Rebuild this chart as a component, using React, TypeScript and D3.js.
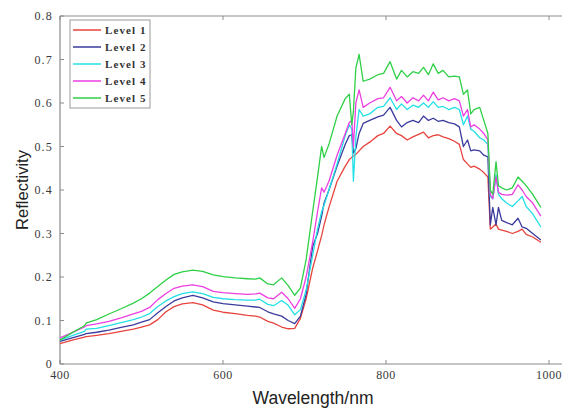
import React, { useEffect, useRef } from "react";
import * as d3 from "d3";

// wavelength samples (nm), shared by every level
const wavelengths = [
  400, 415, 430, 432, 445, 460, 475, 490, 500, 510, 520, 530, 540, 550, 563, 575, 588, 600, 615, 630,
  640, 645, 655, 662, 672, 680, 688, 695, 702, 710, 716, 721, 724, 730, 740, 750, 755, 758, 760, 763,
  767, 772, 780, 790, 797, 805, 813, 819, 826, 833, 840, 846, 852, 858, 864, 870, 877, 884, 890, 895,
  900, 904, 908, 915, 920, 925, 928, 931, 935, 938, 942, 948, 955, 962, 967, 972, 980, 990,
];

const level1 = [
  0.047, 0.055, 0.062, 0.063, 0.066, 0.07, 0.075, 0.08, 0.085, 0.09, 0.102, 0.12, 0.132, 0.138, 0.141, 0.136, 0.124, 0.119, 0.116, 0.112,
  0.11, 0.108, 0.098, 0.094, 0.085, 0.081, 0.082, 0.105, 0.15, 0.22, 0.26, 0.295, 0.32, 0.36, 0.42, 0.455, 0.47, 0.475, 0.478, 0.482,
  0.49, 0.5, 0.51, 0.525, 0.53, 0.547, 0.53, 0.525, 0.515, 0.522, 0.528, 0.533, 0.52, 0.525, 0.527, 0.522, 0.518, 0.512, 0.505, 0.47,
  0.46, 0.452, 0.455, 0.448, 0.44, 0.43, 0.31, 0.315, 0.322, 0.31, 0.308, 0.305, 0.3, 0.305, 0.31, 0.298, 0.292, 0.28,
];

const level2 = [
  0.052, 0.06, 0.068, 0.07, 0.073, 0.078, 0.084, 0.09, 0.096, 0.102, 0.118, 0.132, 0.145, 0.152, 0.158, 0.152, 0.143, 0.139, 0.136, 0.133,
  0.131, 0.13, 0.12, 0.115, 0.11, 0.1, 0.093, 0.11, 0.16, 0.27, 0.3, 0.34, 0.37, 0.4, 0.455, 0.505, 0.525, 0.527, 0.485, 0.495,
  0.53, 0.553, 0.56, 0.568, 0.572, 0.59, 0.56, 0.545, 0.555, 0.56, 0.555, 0.57, 0.56, 0.565, 0.558, 0.56, 0.555, 0.552, 0.545, 0.5,
  0.515, 0.49, 0.492, 0.49, 0.48, 0.476, 0.32, 0.36, 0.32, 0.36, 0.33, 0.325, 0.32, 0.335, 0.315, 0.312, 0.3, 0.285,
];

const level3 = [
  0.055, 0.065, 0.075, 0.08, 0.082, 0.088, 0.095, 0.102, 0.108, 0.116, 0.132, 0.145, 0.155, 0.162, 0.166, 0.162, 0.153, 0.15, 0.148, 0.147,
  0.147, 0.149, 0.137, 0.134, 0.146, 0.135, 0.113, 0.125, 0.17, 0.25, 0.31, 0.35, 0.365, 0.4, 0.46, 0.525, 0.55, 0.54, 0.42, 0.52,
  0.585, 0.57, 0.575, 0.59, 0.592, 0.612, 0.585, 0.598, 0.585, 0.595, 0.59, 0.6, 0.59, 0.603, 0.59, 0.592, 0.585, 0.59, 0.585, 0.55,
  0.57, 0.54, 0.535, 0.52, 0.515, 0.505, 0.385, 0.38, 0.435, 0.39, 0.38, 0.37, 0.362, 0.375, 0.385, 0.362, 0.345, 0.315,
];

const level4 = [
  0.06, 0.072, 0.085, 0.088, 0.092, 0.098, 0.106, 0.115, 0.121, 0.13, 0.148, 0.162, 0.174, 0.179, 0.182, 0.178, 0.167, 0.164, 0.162, 0.16,
  0.161, 0.163, 0.152, 0.15, 0.165, 0.15, 0.128, 0.15, 0.2, 0.28, 0.35, 0.405, 0.395, 0.42, 0.48, 0.53, 0.555, 0.56, 0.5, 0.6,
  0.63, 0.59, 0.6, 0.61, 0.612, 0.636, 0.605, 0.615, 0.6, 0.612, 0.605, 0.618, 0.605, 0.625, 0.607, 0.612, 0.605, 0.61, 0.605, 0.57,
  0.585, 0.545, 0.55, 0.54, 0.53, 0.515, 0.39, 0.38, 0.43, 0.395, 0.39, 0.388, 0.39, 0.412, 0.4, 0.385, 0.37, 0.34,
];

const level5 = [
  0.055, 0.072, 0.088, 0.094, 0.102, 0.115, 0.127, 0.14, 0.15, 0.163, 0.178, 0.193, 0.206, 0.212, 0.216, 0.213, 0.205, 0.201, 0.198, 0.196,
  0.195, 0.198, 0.184, 0.182, 0.198, 0.18, 0.158, 0.175, 0.24, 0.35, 0.43, 0.5, 0.475, 0.505, 0.57, 0.61, 0.62, 0.55, 0.58, 0.68,
  0.712, 0.65, 0.655, 0.665, 0.668, 0.695, 0.655, 0.675, 0.66, 0.672, 0.668, 0.682, 0.665, 0.69, 0.668, 0.675, 0.66, 0.662, 0.66, 0.62,
  0.63, 0.575, 0.585, 0.59, 0.56, 0.53, 0.4, 0.39, 0.465, 0.41, 0.405, 0.4, 0.405, 0.43, 0.42, 0.41, 0.39, 0.36,
];

const seriesNames = ["Level 1", "Level 2", "Level 3", "Level 4", "Level 5"];
const seriesValues = [level1, level2, level3, level4, level5];
const seriesColors = ["#e8443e", "#3b3b9e", "#22e0e6", "#ec3fe2", "#2fd047"];

const xTicks = [400, 600, 800, 1000];
const yTicks = [0, 0.1, 0.2, 0.3, 0.4, 0.5, 0.6, 0.7, 0.8];

export default function App() {
  const ref = useRef<SVGSVGElement | null>(null);

  useEffect(() => {
    const W = 562,
      H = 408;
    const margin = { top: 16, right: 0, bottom: 44, left: 60 };
    const xMaxPx = 549; // pixel of 1000 nm

    const svg = d3.select(ref.current).attr("width", W).attr("height", H);
    svg.selectAll("*").remove();

    svg.append("rect").attr("width", W).attr("height", H).attr("fill", "#fff");

    const x = d3.scaleLinear().domain([400, 1000]).range([margin.left, xMaxPx]);
    const y = d3.scaleLinear().domain([0, 0.8]).range([H - margin.bottom, margin.top]);
    const y0 = y(0),
      yTop = y(0.8);

    const axisColor = "#8c8c8c";
    const labelFont = "'Liberation Serif', 'DejaVu Serif', serif";

    // frame: left, bottom and top lines (right edge falls outside the picture)
    const frame = svg.append("g").attr("stroke", axisColor).attr("stroke-width", 1.2).attr("fill", "none");
    frame.append("line").attr("x1", margin.left).attr("x2", margin.left).attr("y1", yTop).attr("y2", y0);
    frame.append("line").attr("x1", margin.left).attr("x2", W).attr("y1", y0).attr("y2", y0);
    frame.append("line").attr("x1", margin.left).attr("x2", W).attr("y1", yTop).attr("y2", yTop);

    // x ticks (inward, bottom and top)
    const xg = svg.append("g");
    xTicks.forEach((t) => {
      xg.append("line").attr("x1", x(t)).attr("x2", x(t)).attr("y1", y0).attr("y2", y0 - 4).attr("stroke", axisColor);
      xg.append("line").attr("x1", x(t)).attr("x2", x(t)).attr("y1", yTop).attr("y2", yTop + 4).attr("stroke", axisColor);
      xg.append("text")
        .attr("x", x(t))
        .attr("y", y0 + 15)
        .attr("text-anchor", "middle")
        .style("font-family", labelFont)
        .style("font-size", "12px")
        .style("letter-spacing", "0.5px")
        .attr("fill", "#3a3a3a")
        .text(t);
    });

    // y ticks (inward)
    const yg = svg.append("g");
    yTicks.forEach((t) => {
      yg.append("line").attr("x1", margin.left).attr("x2", margin.left + 4).attr("y1", y(t)).attr("y2", y(t)).attr("stroke", axisColor);
      yg.append("text")
        .attr("x", 53)
        .attr("y", y(t) + 4)
        .attr("text-anchor", "end")
        .style("font-family", labelFont)
        .style("font-size", "12px")
        .style("letter-spacing", "1.2px")
        .attr("fill", "#3a3a3a")
        .text(t === 0 ? "0" : t.toFixed(1));
    });

    // axis titles
    svg
      .append("text")
      .attr("x", 313)
      .attr("y", 404)
      .attr("text-anchor", "middle")
      .style("font-family", "'Liberation Sans', Arial, sans-serif")
      .style("font-size", "17.5px")
      .attr("fill", "#222")
      .text("Wavelength/nm");

    svg
      .append("text")
      .attr("transform", `translate(28,${(yTop + y0) / 2}) rotate(-90)`)
      .attr("text-anchor", "middle")
      .style("font-family", "'Liberation Sans', Arial, sans-serif")
      .style("font-size", "16.5px")
      .attr("fill", "#222")
      .text("Reflectivity");

    // curves
    const line = d3
      .line<number>()
      .x((_, i) => x(wavelengths[i]))
      .y((d) => y(d));

    svg
      .append("g")
      .selectAll(".curve")
      .data(seriesValues)
      .join("path")
      .attr("class", "curve")
      .attr("d", (d) => line(d))
      .attr("fill", "none")
      .attr("stroke", (_, i) => seriesColors[i])
      .attr("stroke-width", 1.3)
      .attr("stroke-linejoin", "round");

    // legend
    const lg = svg.append("g");
    lg.append("rect")
      .attr("x", 70)
      .attr("y", 20)
      .attr("width", 80)
      .attr("height", 88)
      .attr("fill", "#fff")
      .attr("stroke", "#9a9a9a")
      .attr("stroke-width", 1);
    seriesNames.forEach((name, i) => {
      const ly = 30 + i * 17;
      lg.append("line")
        .attr("x1", 73)
        .attr("x2", 101)
        .attr("y1", ly)
        .attr("y2", ly)
        .attr("stroke", seriesColors[i])
        .attr("stroke-width", 1.5);
      lg.append("text")
        .attr("x", 105)
        .attr("y", ly + 4)
        .style("font-family", labelFont)
        .style("font-size", "11px")
        .style("font-weight", "bold")
        .style("letter-spacing", "1.1px")
        .attr("fill", "#333")
        .text(name);
    });
  }, []);

  return <svg ref={ref} style={{ position: "absolute", left: 0, top: 0 }}></svg>;
}
